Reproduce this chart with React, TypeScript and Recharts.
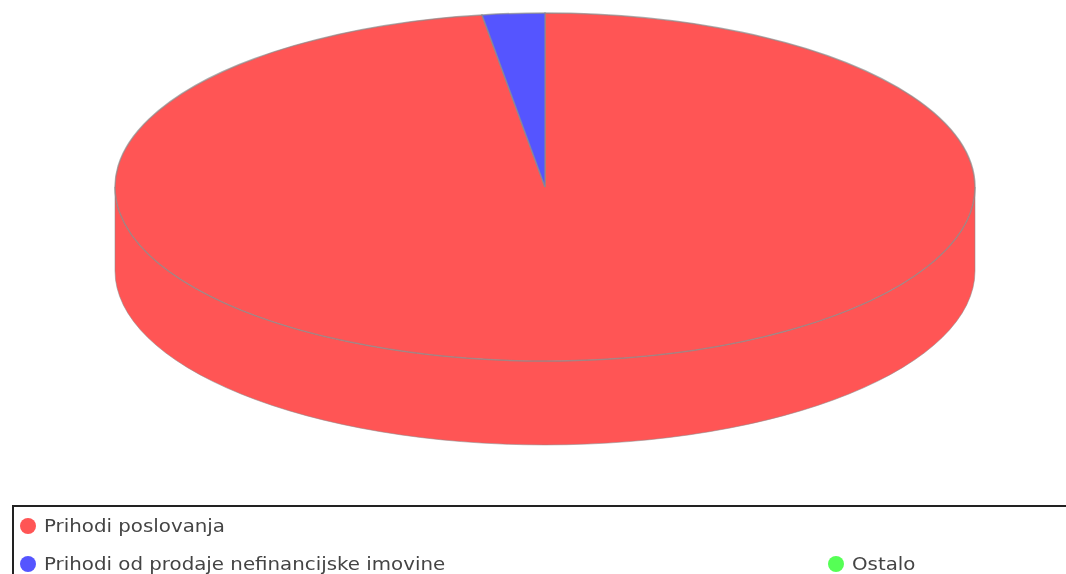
import { PieChart, Pie, Legend } from 'recharts';

const names = ['Prihodi poslovanja', 'Prihodi od prodaje nefinancijske imovine', 'Ostalo'];
const values = [97.66, 2.34, 0];
const colors = ['#FF5555', '#5555FF', '#55FF55'];

const table = names.map((name, i) => ({ name, value: values[i], fill: colors[i] }));

// the pie is tilted: vertical radius is squashed and the side wall hangs below it
const SQUASH = 174 / 430;
const DEPTH = 84;
const EDGE = '#8c8c8c';

const point = (p: any, deg: number, dy = 0) => {
  const a = (deg * Math.PI) / 180;
  return [p.cx + p.outerRadius * Math.cos(a), p.cy - p.outerRadius * SQUASH * Math.sin(a) + dy];
};

const TopSlice = (p: any) => {
  if (p.startAngle === p.endAngle) return null;
  const rx = p.outerRadius;
  const ry = rx * SQUASH;
  const [x0, y0] = point(p, p.startAngle);
  const [x1, y1] = point(p, p.endAngle);
  const large = Math.abs(p.startAngle - p.endAngle) > 180 ? 1 : 0;
  return (
    <path
      d={`M${p.cx},${p.cy}L${x0},${y0}A${rx},${ry} 0 ${large} 1 ${x1},${y1}Z`}
      fill={p.fill}
      stroke={EDGE}
      strokeOpacity={0.7}
      strokeWidth={1.5}
    />
  );
};

const SideWall = (p: any) => {
  // only the front half of the rim is visible
  const s = Math.min(p.startAngle, 0);
  const e = Math.max(p.endAngle, -180);
  if (s <= e) return null;
  const rx = p.outerRadius;
  const ry = rx * SQUASH;
  const [x0, y0] = point(p, s);
  const [x1, y1] = point(p, e);
  const [x2, y2] = point(p, e, DEPTH);
  const [x3, y3] = point(p, s, DEPTH);
  return (
    <path
      d={`M${x0},${y0}A${rx},${ry} 0 0 1 ${x1},${y1}L${x2},${y2}A${rx},${ry} 0 0 0 ${x3},${y3}Z`}
      fill={p.fill}
      stroke={EDGE}
      strokeOpacity={0.55}
      strokeWidth={1}
    />
  );
};

const LegendBox = ({ payload }: any) => (
  <div
    style={{
      display: 'grid',
      gridTemplateColumns: '808px 1fr',
      gridAutoRows: '38px',
      border: '2px solid #222',
      boxSizing: 'border-box',
      height: 90,
      paddingLeft: 6,
    }}
  >
    {(payload || [])
      .filter((entry: any) => entry.type !== 'none')
      .map((entry: any, i: number) => (
        <div
          key={entry.value}
          style={{ display: 'flex', alignItems: 'center', gridColumn: i === 0 ? '1 / 3' : undefined }}
        >
          <span
            style={{ width: 16, height: 16, borderRadius: '50%', background: entry.color, marginRight: 8, flex: 'none', filter: 'blur(0.4px)' }}
          />
          <span
            style={{
              color: '#444',
              fontSize: 17,
              fontFamily: 'DejaVu Sans',
              whiteSpace: 'nowrap',
              display: 'inline-block',
              transform: 'scaleX(1.165)',
              transformOrigin: 'left center',
              filter: 'blur(0.4px)',
            }}
          >
            {entry.value}
          </span>
        </div>
      ))}
  </div>
);

export default function App() {
  return (
    <div style={{ position: 'absolute', left: 0, top: 0, width: 1066, height: 574, overflow: 'hidden', background: '#fff' }}>
      <PieChart width={1066} height={574} margin={{ top: 0, right: 0, bottom: 0, left: 0 }}>
        <Pie
          data={table}
          dataKey="value"
          nameKey="name"
          cx={545}
          cy={187}
          outerRadius={430}
          startAngle={90}
          endAngle={-270}
          paddingAngle={0}
          legendType="none"
          shape={SideWall}
          isAnimationActive={false}
        />
        <Pie
          data={table}
          dataKey="value"
          nameKey="name"
          cx={545}
          cy={187}
          outerRadius={430}
          startAngle={90}
          endAngle={-270}
          paddingAngle={0}
          legendType="circle"
          shape={TopSlice}
          isAnimationActive={false}
        />
        <Legend
          content={LegendBox}
          itemSorter={null}
          wrapperStyle={{ position: 'absolute', left: 12, top: 505, width: 1070, bottom: 'auto', right: 'auto' }}
        />
      </PieChart>
    </div>
  );
}
